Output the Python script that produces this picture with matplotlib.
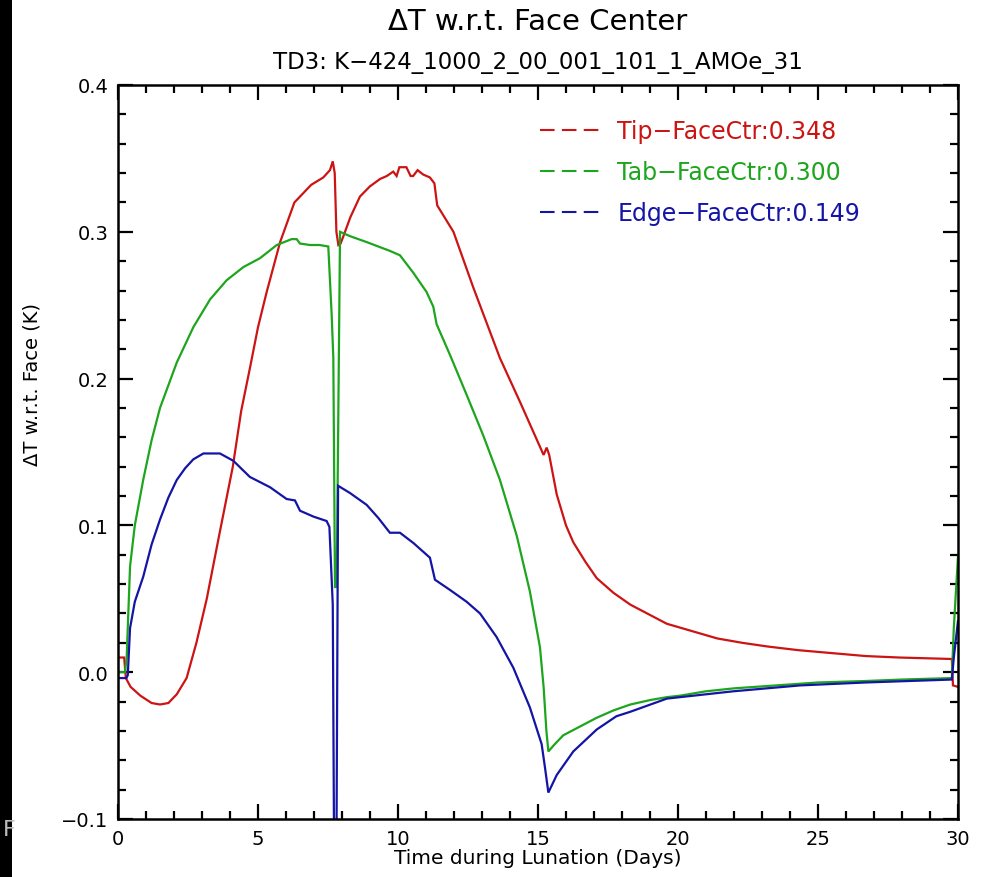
import matplotlib
matplotlib.use("Agg")
import matplotlib.pyplot as plt
from matplotlib.lines import Line2D
from matplotlib.patches import Rectangle
from matplotlib.ticker import MultipleLocator

# ---------------- data ----------------
tip_x = [0, 0.22, 0.28, 0.45, 0.8, 1.2, 1.5, 1.8, 2.1, 2.45, 2.8, 3.17, 3.6, 4.1, 4.4, 4.71,
         5.0, 5.31, 5.79, 6.3, 6.9, 7.33, 7.57, 7.67, 7.74, 7.80, 7.87, 7.95, 8.05, 8.3, 8.64,
         9.0, 9.36, 9.6, 9.83, 9.95, 10.05, 10.3, 10.45, 10.54, 10.7, 10.9, 11.14, 11.3,
         11.4, 11.98, 12.69, 13.64, 14.36, 15.13, 15.2, 15.31, 15.4, 15.67, 16.0, 16.26,
         16.7, 17.1, 17.7, 18.3, 19.0, 19.6, 20.5, 21.4, 22.3, 23.2, 24.3, 25.5, 26.7,
         27.9, 29.78, 29.82, 30]
tip_y = [0.010, 0.010, -0.004, -0.010, -0.016, -0.021, -0.022, -0.021, -0.015, -0.004,
         0.020, 0.050, 0.092, 0.140, 0.178, 0.207, 0.235, 0.259, 0.293, 0.320, 0.332, 0.337,
         0.342, 0.348, 0.340, 0.300, 0.291, 0.292, 0.297, 0.310, 0.324, 0.331, 0.336, 0.338,
         0.341, 0.338, 0.344, 0.344, 0.338, 0.338, 0.342, 0.339, 0.337, 0.333, 0.318,
         0.300, 0.262, 0.214, 0.184, 0.151, 0.148, 0.153, 0.148, 0.121, 0.100, 0.0885,
         0.075, 0.064, 0.054, 0.046, 0.039, 0.033, 0.028, 0.023, 0.020, 0.0175, 0.015,
         0.013, 0.011, 0.010, 0.009, -0.009, -0.010]

tab_x = [0, 0.25, 0.31, 0.43, 0.6, 0.9, 1.2, 1.5, 2.1, 2.69, 3.29, 3.88, 4.48, 5.07,
         5.67, 6.2, 6.38, 6.5, 6.86, 7.2, 7.51, 7.63, 7.69, 7.75, 7.81, 7.93, 8.29, 8.88,
         9.71, 10.07, 10.55, 11.02, 11.26, 11.38, 11.86, 12.45, 13.05, 13.64, 14.24,
         14.71, 15.07, 15.2, 15.3, 15.37, 15.6, 15.9, 16.5, 17.1, 17.7, 18.3, 19.0, 19.6,
         20.07, 21.0, 22.0, 23.5, 25.0, 26.7, 28.0, 29.78, 29.85, 30]
tab_y = [0.0, 0.0, 0.010, 0.072, 0.100, 0.131, 0.158, 0.180, 0.211, 0.235, 0.254, 0.267,
         0.276, 0.282, 0.291, 0.295, 0.295, 0.292, 0.291, 0.291, 0.290, 0.244, 0.214,
         0.058, 0.058, 0.300, 0.297, 0.293, 0.287, 0.284, 0.272, 0.259, 0.249, 0.237,
         0.216, 0.189, 0.161, 0.131, 0.093, 0.055, 0.017, -0.010, -0.040, -0.054, -0.049,
         -0.043, -0.037, -0.031, -0.026, -0.022, -0.019, -0.017, -0.016, -0.013, -0.011,
         -0.009, -0.007, -0.006, -0.005, -0.004, 0.030, 0.079]

edge_x = [0, 0.3, 0.35, 0.43, 0.6, 0.9, 1.2, 1.5, 1.8, 2.1, 2.4, 2.69, 3.05, 3.64, 4.12,
          4.71, 5.43, 6.02, 6.32, 6.5, 6.98, 7.45, 7.55, 7.67, 7.72, 7.80, 7.86, 8.29,
          8.88, 9.3, 9.71, 10.07, 10.55, 11.14, 11.32, 11.86, 12.45, 12.93, 13.52, 14.12,
          14.71, 15.13, 15.25, 15.37, 15.67, 16.26, 17.1, 17.8, 18.29, 19.6, 20.07, 21.98,
          24.36, 26.7, 29.78, 29.85, 30]
edge_y = [-0.004, -0.004, -0.002, 0.030, 0.048, 0.065, 0.087, 0.104, 0.119, 0.131, 0.139,
          0.145, 0.149, 0.149, 0.144, 0.133, 0.126, 0.118, 0.117, 0.110, 0.106, 0.103,
          0.099, 0.046, -0.13, -0.13, 0.127, 0.122, 0.114, 0.105, 0.095, 0.095, 0.088,
          0.078, 0.063, 0.056, 0.048, 0.040, 0.024, 0.003, -0.024, -0.049, -0.065, -0.082,
          -0.070, -0.054, -0.039, -0.030, -0.027, -0.018, -0.017, -0.013, -0.009, -0.007,
          -0.005, 0.010, 0.035]

labels = ["Tip\u2212FaceCtr:0.348", "Tab\u2212FaceCtr:0.300", "Edge\u2212FaceCtr:0.149"]
colors = ["#cc1414", "#1ea51e", "#1414a5"]
x_ticks = [0, 5, 10, 15, 20, 25, 30]
y_ticks = [-0.1, 0.0, 0.1, 0.2, 0.3, 0.4]
y_ticklabels = ["\u22120.1", "0.0", "0.1", "0.2", "0.3", "0.4"]

# ---------------- figure ----------------
fig = plt.figure(figsize=(9.94, 8.78), dpi=100)
ax = fig.add_axes([118 / 994, 1 - 820 / 878, 840 / 994, 734 / 878])

for xs, ys, c in zip([tip_x, tab_x, edge_x], [tip_y, tab_y, edge_y], colors):
    ax.plot(xs, ys, color=c, lw=1.6, solid_joinstyle="miter")

ax.set_xlim(0, 30)
ax.set_ylim(-0.1, 0.4)
ax.set_xticks(x_ticks)
ax.set_xticklabels([str(t) for t in x_ticks])
ax.set_yticks(y_ticks)
ax.set_yticklabels(y_ticklabels)
ax.xaxis.set_minor_locator(MultipleLocator(1))
ax.yaxis.set_minor_locator(MultipleLocator(0.02))
ax.tick_params(which="both", direction="in", top=True, right=True, width=1.6,
               color="black", labelsize=14)
ax.tick_params(which="major", length=11, pad=7)
ax.tick_params(which="minor", length=6)
for s in ax.spines.values():
    s.set_linewidth(1.8)

ax.set_xlabel("Time during Lunation (Days)", fontsize=14.5, labelpad=0)
fig.text(32 / 994, 1 - 385 / 878, "\u0394T w.r.t. Face (K)", rotation=90, ha="center",
         va="center", fontsize=14)

fig.text(538 / 994, 1 - 22 / 878, "\u0394T w.r.t. Face Center", ha="center", va="center",
         fontsize=21)
fig.text(538 / 994, 1 - 62 / 878, "TD3: K\u2212424_1000_2_00_001_101_1_AMOe_31", ha="center",
         va="center", fontsize=16.5)

handles = [Line2D([], [], color=c, lw=1.5, dashes=(7, 3.5)) for c in colors]
leg = ax.legend(handles, labels, loc="upper left", bbox_to_anchor=(0.477, 0.982),
                frameon=False, fontsize=17, handlelength=2.55, handletextpad=0.72,
                labelspacing=0.72, labelcolor=colors)

# screenshot border artifacts
fig.patches.append(Rectangle((0, 0), 12 / 994, 1, transform=fig.transFigure,
                             facecolor="black", edgecolor="none"))
fig.text(3 / 994, 1 - 830 / 878, "F", color="#bbbbbb", fontsize=16, va="center")

fig.savefig("out.png", dpi=100)
